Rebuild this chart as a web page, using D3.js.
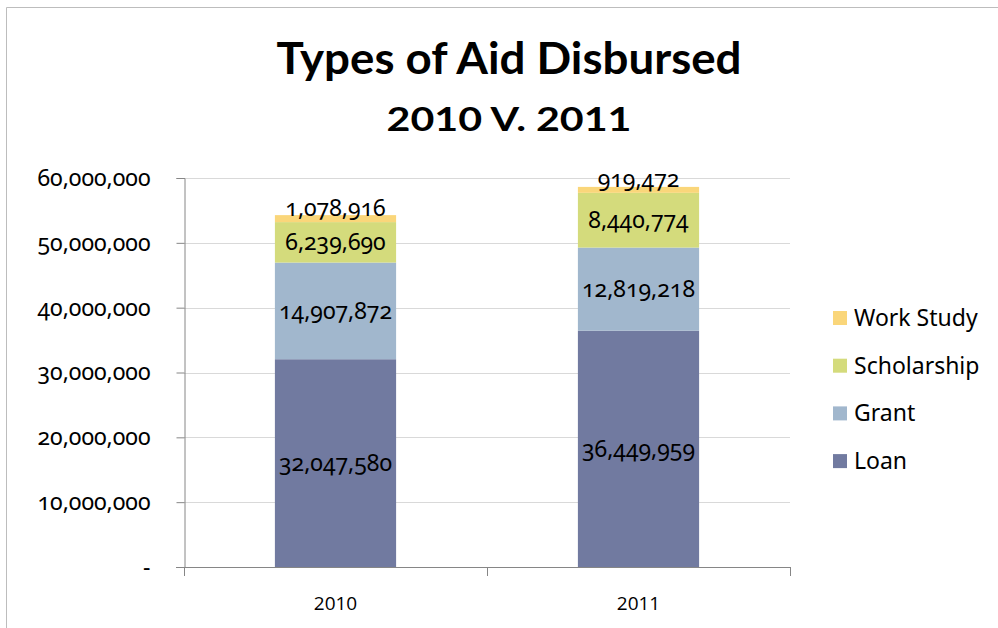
<!DOCTYPE html>
<html>
<head>
<meta charset="utf-8">
<script src="https://cdn.jsdelivr.net/npm/d3@7"></script>
<style>
  html, body { margin: 0; padding: 0; background: #fff; }
  svg { display: block; }
  .num { font-family: "Noto Sans", sans-serif; font-variant-numeric: oldstyle-nums; }
</style>
</head>
<body>
<script>
/*
 * Stacked column chart: types of aid disbursed, 2010 vs 2011.
 */

const WIDTH = 998;
const HEIGHT = 628;
const PLOT_LEFT = 184;
const PLOT_RIGHT = 790;
const PLOT_TOP = 178;
const PLOT_BOTTOM = 567;

// data
const years = ['2010', '2011'];
const aidTypes = ['Loan', 'Grant', 'Scholarship', 'Work Study'];
const loan = [32047580, 36449959];
const grant = [14907872, 12819218];
const scholarship = [6239690, 8440774];
const workStudy = [1078916, 919472];
const yTicks = [0, 10000000, 20000000, 30000000, 40000000, 50000000, 60000000];

const colors = {
  'Loan': '#717aa0',
  'Grant': '#a1b7cd',
  'Scholarship': '#d4db7c',
  'Work Study': '#fad67a'
};

// table used by d3.stack
const rows = years.map((year, i) => ({
  year,
  'Loan': loan[i],
  'Grant': grant[i],
  'Scholarship': scholarship[i],
  'Work Study': workStudy[i]
}));

const svg = d3.select('body')
  .append('svg')
    .attr('width', WIDTH)
    .attr('height', HEIGHT);

// outer frame
svg.append('path')
    .attr('d', `M6.5,${HEIGHT} V7.5 H${WIDTH}`)
    .attr('fill', 'none')
    .attr('stroke', '#bdbdbd')
    .attr('stroke-width', 1);

// titles
svg.append('text')
    .attr('x', 509)
    .attr('y', 74)
    .attr('text-anchor', 'middle')
    .attr('textLength', 465)
    .attr('lengthAdjust', 'spacingAndGlyphs')
    .style('font-family', 'Lato, sans-serif')
    .style('font-weight', 700)
    .style('font-size', '43px')
    .text('Types of Aid Disbursed');

svg.append('text')
    .attr('x', 509)
    .attr('y', 131)
    .attr('text-anchor', 'middle')
    .attr('textLength', 245)
    .attr('lengthAdjust', 'spacingAndGlyphs')
    .style('font-family', 'Lato, sans-serif')
    .style('font-weight', 700)
    .style('font-size', '33px')
    .text('2010 V. 2011');

// scales
const x = d3.scaleBand()
    .domain(years)
    .range([PLOT_LEFT, PLOT_RIGHT])
    .paddingInner(0.6)
    .paddingOuter(0.3);

const y = d3.scaleLinear()
    .domain([0, 60000000])
    .range([PLOT_BOTTOM, PLOT_TOP]);

// gridlines
svg.append('g')
  .selectAll('line')
  .data(yTicks.filter(d => d > 0))
  .join('line')
    .attr('x1', PLOT_LEFT)
    .attr('x2', PLOT_RIGHT)
    .attr('y1', d => Math.round(y(d)) + 0.5)
    .attr('y2', d => Math.round(y(d)) + 0.5)
    .attr('stroke', '#d9d9d9');

// stacked bars
const series = d3.stack().keys(aidTypes)(rows);

const layers = svg.append('g')
  .selectAll('g')
  .data(series)
  .join('g')
    .attr('fill', d => colors[d.key]);

layers.selectAll('rect')
  .data(d => d)
  .join('rect')
    .attr('x', d => x(d.data.year))
    .attr('width', x.bandwidth())
    .attr('y', d => y(d[1]))
    .attr('height', d => y(d[0]) - y(d[1]));

// data labels
const fmt = d3.format(',');
layers.selectAll('text')
  .data(d => d.map(p => ({p, key: d.key})))
  .join('text')
    .attr('class', 'num')
    .attr('x', d => x(d.p.data.year) + x.bandwidth() / 2)
    .attr('y', d => {
      const top = y(d.p[1]);
      const bot = y(d.p[0]);
      const mid = (top + bot) / 2;
      return (bot - top) < 20 ? mid - 11 : mid;
    })
    .attr('dy', '0.35em')
    .attr('text-anchor', 'middle')
    .attr('fill', '#000')
    .style('font-size', '23px')
    .text(d => fmt(d.p.data[d.key]));

// y axis
const yAxis = d3.axisLeft(y)
    .tickValues(yTicks)
    .tickSize(8)
    .tickPadding(26)
    .tickFormat(d => d === 0 ? '-' : fmt(d));

const gy = svg.append('g')
    .attr('transform', `translate(${PLOT_LEFT + 0.5},0)`)
    .call(yAxis);
gy.select('.domain').attr('stroke', '#868686');
gy.selectAll('.tick line').attr('stroke', '#868686');
gy.selectAll('.tick text')
    .attr('class', 'num')
    .attr('fill', '#000')
    .style('font-size', '23px');

// x axis
const xEdges = [PLOT_LEFT, (PLOT_LEFT + PLOT_RIGHT) / 2, PLOT_RIGHT];
const gx = svg.append('g');
gx.append('line')
    .attr('x1', PLOT_LEFT - 8)
    .attr('x2', PLOT_RIGHT)
    .attr('y1', PLOT_BOTTOM + 0.5)
    .attr('y2', PLOT_BOTTOM + 0.5)
    .attr('stroke', '#868686');
gx.selectAll('.xtick')
  .data(xEdges)
  .join('line')
    .attr('class', 'xtick')
    .attr('x1', d => Math.round(d) + 0.5)
    .attr('x2', d => Math.round(d) + 0.5)
    .attr('y1', PLOT_BOTTOM)
    .attr('y2', PLOT_BOTTOM + 9)
    .attr('stroke', '#868686');
gx.selectAll('text')
  .data(years)
  .join('text')
    .attr('x', d => x(d) + x.bandwidth() / 2)
    .attr('y', 610)
    .attr('text-anchor', 'middle')
    .style('font-family', '"Open Sans", sans-serif')
    .style('font-size', '19px')
    .text(d => d);

// legend (top entry is the last stacked series)
const legend = svg.append('g')
    .attr('transform', 'translate(833,318)');

const legendItems = legend.selectAll('g')
  .data(aidTypes.slice().reverse())
  .join('g')
    .attr('transform', (d, i) => `translate(0,${i * 47.7})`);

legendItems.append('rect')
    .attr('x', 0)
    .attr('y', -7)
    .attr('width', 14)
    .attr('height', 14)
    .attr('fill', d => colors[d]);

legendItems.append('text')
    .attr('x', 21)
    .attr('dy', '0.35em')
    .style('font-family', '"Noto Sans", sans-serif')
    .style('font-size', '23px')
    .text(d => d);
</script>
</body>
</html>
